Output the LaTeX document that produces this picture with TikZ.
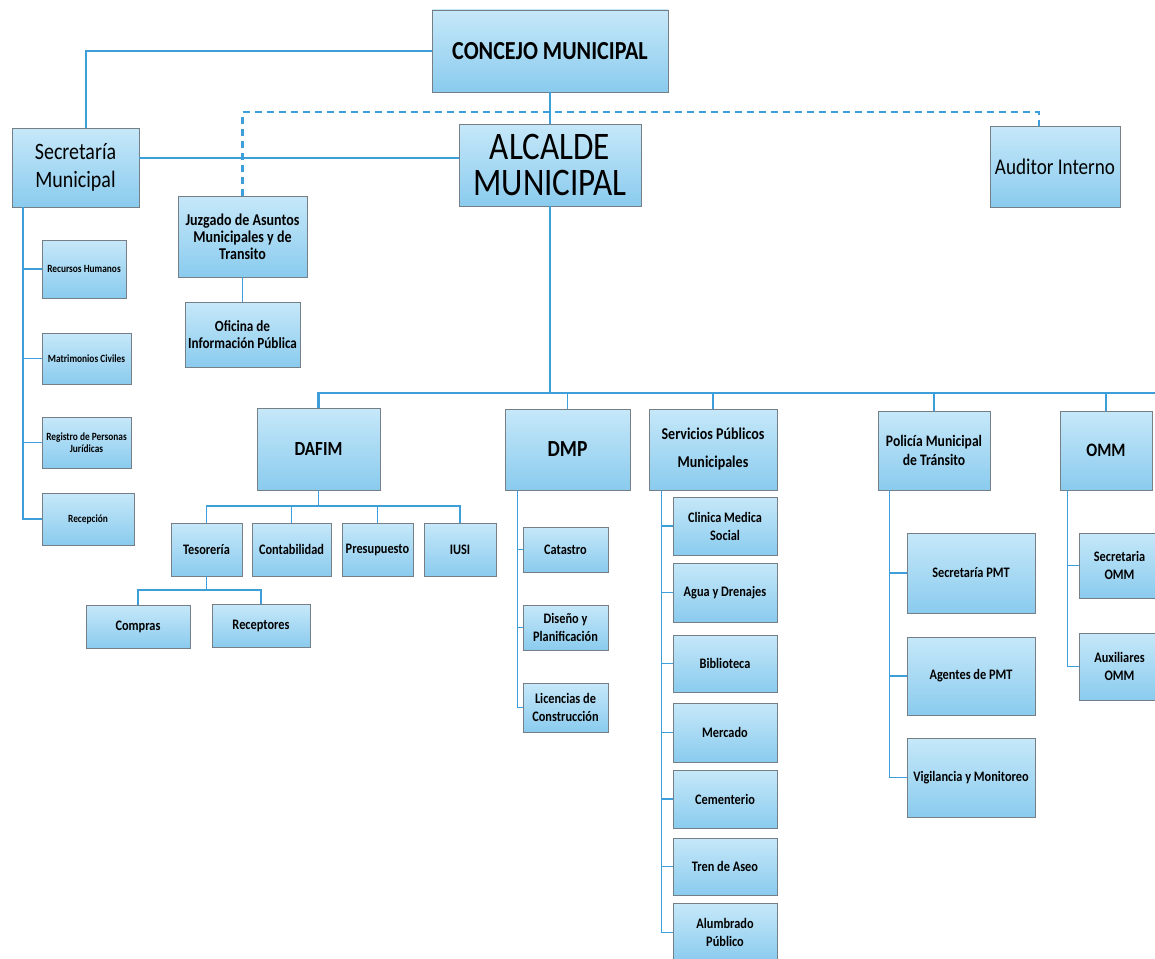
\documentclass[tikz,border=0pt]{standalone}
\usepackage{fontspec}
\setmainfont{Carlito}[FakeStretch=0.85]

\definecolor{linkblue}{RGB}{62,158,218}
\definecolor{boxtop}{RGB}{198,232,249}
\definecolor{boxbot}{RGB}{138,203,238}
\definecolor{boxedge}{RGB}{118,126,134}
\newcommand{\fs}[2]{\fontsize{#1}{#2}\selectfont}

\tikzset{
  box/.style={draw=boxedge, line width=0.7pt, top color=boxtop, bottom color=boxbot,
    align=center, inner sep=1pt, font=\bfseries\fs{14.5}{18}},
  link/.style={linkblue, line width=2.8pt},
  drop/.style={linkblue, line width=1.8pt},
  twig/.style={linkblue, line width=1.3pt},
  dotlink/.style={linkblue, line width=2.2pt, dash pattern=on 7pt off 5pt},
}

\begin{document}
\begin{tikzpicture}[x=1pt,y=-1pt]
  \useasboundingbox (0,0) rectangle (1155,958);

  % top level
  \node[box, minimum width=236, minimum height=82, font=\bfseries\fs{26}{28}] (concejo) at (550,51) {CONCEJO MUNICIPAL};
  \node[box, minimum width=182, minimum height=82, font=\fs{39}{36}] (alcalde) at (550,165) {ALCALDE\\MUNICIPAL};
  \node[box, minimum width=127, minimum height=79, font=\fs{23.5}{28}] (secm) at (75.5,167.5) {Secretaría\\Municipal};
  \node[box, minimum width=130, minimum height=81, font=\fs{22.5}{26}] (auditor) at (1055,166.5) {Auditor Interno};
  \node[box, minimum width=129, minimum height=81, font=\bfseries\fs{16.5}{17}] (juzgado) at (242.5,236.5) {Juzgado de Asuntos\\Municipales y de\\Transito};
  \node[box, minimum width=115, minimum height=65, font=\bfseries\fs{15.5}{17}] (oficina) at (242.5,334.5) {Oficina de\\Información Pública};

  % secretaria
  \node[box, minimum width=84, minimum height=58, font=\bfseries\fs{11}{12}] (recursos) at (84,269) {Recursos Humanos};
  \node[box, minimum width=89, minimum height=51, font=\bfseries\fs{11}{12}] (matrimonios) at (86.5,358.5) {Matrimonios Civiles};
  \node[box, minimum width=89, minimum height=51, font=\bfseries\fs{11}{12}] (registro) at (86.5,442.5) {Registro de Personas\\Jurídicas};
  \node[box, minimum width=92, minimum height=52, font=\bfseries\fs{11}{12}] (recepcion) at (88,519) {Recepción};

  % direcciones
  \node[box, minimum width=123, minimum height=82, font=\bfseries\fs{20}{24}] (dafim) at (318.5,449) {DAFIM};
  \node[box, minimum width=125, minimum height=81, font=\bfseries\fs{23}{26}] (dmp) at (567.5,449.5) {DMP};
  \node[box, minimum width=128, minimum height=81, font=\bfseries\fs{16.5}{28}] (spm) at (713,449.5) {Servicios Públicos\\Municipales};
  \node[box, minimum width=112, minimum height=79, font=\bfseries\fs{16}{19}] (pmt) at (934,450.5) {Policía Municipal\\de Tránsito};
  \node[box, minimum width=92, minimum height=79, font=\bfseries\fs{19}{24}] (omm) at (1106,450.5) {OMM};

  % dafim
  \node[box, minimum width=71, minimum height=53] (tesoreria) at (206.5,549.5) {Tesorería};
  \node[box, minimum width=79, minimum height=53] (contabilidad) at (291.5,549.5) {Contabilidad};
  \node[box, minimum width=71, minimum height=53] (presupuesto) at (377.5,549.5) {Presupuesto};
  \node[box, minimum width=72, minimum height=53] (iusi) at (460,549.5) {IUSI};
  \node[box, minimum width=104, minimum height=43] (compras) at (138,626.5) {Compras};
  \node[box, minimum width=98, minimum height=43] (receptores) at (261,626) {Receptores};

  % dmp
  \node[box, minimum width=85, minimum height=45] (catastro) at (565.5,549.5) {Catastro};
  \node[box, minimum width=85, minimum height=45] (diseno) at (565.5,627.5) {Diseño y\\Planificación};
  \node[box, minimum width=85, minimum height=49] (licencias) at (565.5,707.5) {Licencias de\\Construcción};

  % servicios
  \node[box, minimum width=104, minimum height=58] (clinica) at (725,526) {Clinica Medica\\Social};
  \node[box, minimum width=104, minimum height=59] (agua) at (725,592.5) {Agua y Drenajes};
  \node[box, minimum width=104, minimum height=57] (biblioteca) at (725,663.5) {Biblioteca};
  \node[box, minimum width=104, minimum height=59] (mercado) at (725,732.5) {Mercado};
  \node[box, minimum width=104, minimum height=58] (cementerio) at (725,799) {Cementerio};
  \node[box, minimum width=104, minimum height=57] (tren) at (725,866.5) {Tren de Aseo};
  \node[box, minimum width=104, minimum height=59] (alumbrado) at (725,932.5) {Alumbrado\\Público};

  % policia
  \node[box, minimum width=128, minimum height=80] (secpmt) at (971,573) {Secretaría PMT};
  \node[box, minimum width=128, minimum height=78] (agentes) at (971,676) {Agentes de PMT};
  \node[box, minimum width=128, minimum height=79] (vigilancia) at (971,777.5) {Vigilancia y Monitoreo};

  % omm
  \node[box, minimum width=81, minimum height=65] (secomm) at (1119.5,565.5) {Secretaria\\OMM};
  \node[box, minimum width=81, minimum height=67] (auxomm) at (1119.5,666.5) {Auxiliares\\OMM};

  % lines
  \draw[link] (concejo.west) -| ([xshift=10.5pt]secm.north);
  \draw[link] (concejo) -- (alcalde);
  \draw[link] ([yshift=9.5pt]secm.east) -- ([yshift=9.5pt]secm.east -| alcalde.west);
  \coordinate (dashmid) at (550,112);
  \draw[dotlink] (juzgado.north) |- (dashmid) -| ([xshift=-16pt]auditor.north);
  \draw[twig] (juzgado) -- (oficina);

  \coordinate (secspine) at ([xshift=-52.5pt]secm.south);
  \draw[drop] (secspine) |- (recepcion.west);
  \foreach \n in {recursos,matrimonios,registro}
    \draw[twig] (\n.west) -- (\n.west -| secspine);

  \coordinate (bus) at (550,393);
  \coordinate (busend) at (1160,393);
  \draw[link] (alcalde) -- (bus);
  \draw[link] (dafim.north) |- (busend);
  \foreach \n in {dmp,spm,pmt,omm}
    \draw[drop] (\n.north) -- (\n.north |- bus);

  % dafim branches
  \coordinate (dafimbar) at (318.5,506);
  \draw[twig] (dafim.south) -- (dafimbar);
  \draw[twig] (tesoreria.north) |- (dafimbar) -| (iusi.north);
  \foreach \n in {contabilidad,presupuesto}
    \draw[twig] (\n.north) -- (\n.north |- dafimbar);
  \coordinate (tesbar) at (206.5,590);
  \draw[twig] (tesoreria.south) -- (tesbar);
  \draw[twig] (compras.north) |- (tesbar) -| (receptores.north);

  % spines
  \coordinate (dmpspine) at ([xshift=13pt]dmp.south west);
  \draw[twig] (dmpspine) |- (licencias.west);
  \foreach \n in {catastro,diseno}
    \draw[twig] (\n.west) -- (\n.west -| dmpspine);

  \coordinate (spmspine) at ([xshift=13pt]spm.south west);
  \draw[twig] (spmspine) |- (alumbrado.west);
  \foreach \n in {clinica,agua,biblioteca,mercado,cementerio,tren}
    \draw[twig] (\n.west) -- (\n.west -| spmspine);

  \coordinate (pmtspine) at ([xshift=12pt]pmt.south west);
  \draw[twig] (pmtspine) |- (vigilancia.west);
  \foreach \n in {secpmt,agentes}
    \draw[twig] (\n.west) -- (\n.west -| pmtspine);

  \coordinate (ommspine) at ([xshift=8pt]omm.south west);
  \draw[twig] (ommspine) |- (auxomm.west);
  \draw[twig] (secomm.west) -- (secomm.west -| ommspine);
\end{tikzpicture}
\end{document}
